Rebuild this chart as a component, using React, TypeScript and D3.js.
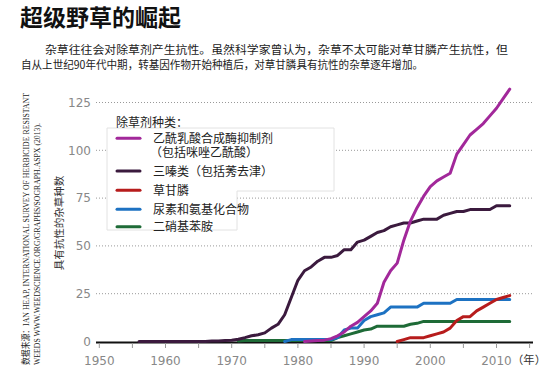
import React from "react";
import * as d3 from "d3";

// Chart data
const yTicks = [0, 25, 50, 75, 100, 125];
const xTickLabels = [1950, 1960, 1970, 1980, 1990, 2000, 2010];
const xMinorTicks = [1950, 1955, 1960, 1965, 1970, 1975, 1980, 1985, 1990, 1995, 2000, 2005, 2010, 2015];

const alsStart = 1981;
const alsValues = [0, 0.3, 0.5, 0.7, 1.5, 3, 5, 8, 10, 13, 16, 20, 31, 37, 41, 53, 63, 70, 76, 81, 84, 86, 88, 98, 103, 108, 111, 114, 118, 122, 127, 132];

const triazineStart = 1956;
const triazineValues = [0, 0, 0, 0, 0, 0, 0, 0, 0, 0, 0, 0.2, 0.3, 0.5, 0.7, 1.2, 2, 3, 3.5, 4.5, 7, 9, 14, 23, 32, 37, 39, 42, 44, 44, 45, 48, 48, 52, 53, 55, 57, 58, 60, 61, 62, 62, 63, 64, 64, 64, 66, 67, 68, 68, 69, 69, 69, 69, 71, 71, 71];

const glyphosateStart = 1995;
const glyphosateValues = [0, 1, 2, 2, 2, 3, 4, 5, 7, 11, 13, 13, 16, 18, 20, 22, 23, 24];

const ureaStart = 1978;
const ureaValues = [0, 1, 1, 1, 1, 1, 1, 1, 2, 6, 7, 7, 11, 13, 14, 15, 18, 18, 18, 18, 18, 20, 20, 20, 20, 20, 22, 22, 22, 22, 22, 22, 22, 22, 22];

const dinitroStart = 1971;
const dinitroValues = [0.3, 0.5, 0.5, 0.5, 0.5, 0.5, 0.5, 0.5, 0.5, 0.5, 0.5, 0.5, 0.5, 0.5, 0.5, 2, 3, 4, 5, 6, 6.5, 8, 8, 8, 8, 8, 9, 9.5, 10.5, 10.5, 10.5, 10.5, 10.5, 10.5, 10.5, 10.5, 10.5, 10.5, 10.5, 10.5, 10.5, 10.5];

const series = [
  { name: "二硝基苯胺", start: dinitroStart, values: dinitroValues, color: "#1e6b37" },
  { name: "尿素和氨基化合物", start: ureaStart, values: ureaValues, color: "#1d72c2" },
  { name: "草甘膦", start: glyphosateStart, values: glyphosateValues, color: "#b71c1c" },
  { name: "三嗪类（包括莠去津）", start: triazineStart, values: triazineValues, color: "#3b1a3e" },
  { name: "乙酰乳酸合成酶抑制剂", start: alsStart, values: alsValues, color: "#a2289a" },
];

const legendItems = [
  { label: ["乙酰乳酸合成酶抑制剂", "（包括咪唑乙酰酸）"], color: "#a2289a" },
  { label: ["三嗪类（包括莠去津）"], color: "#3b1a3e" },
  { label: ["草甘膦"], color: "#b71c1c" },
  { label: ["尿素和氨基化合物"], color: "#1d72c2" },
  { label: ["二硝基苯胺"], color: "#1e6b37" },
];

const cjk = "'Noto Sans CJK SC', sans-serif";
const serif = "'Liberation Serif', 'Noto Sans CJK SC', serif";

export default function App() {
  const width = 550;
  const height = 367;

  const x = d3.scaleLinear().domain([1950, 2010]).range([99.3, 496.5]);
  const y = d3.scaleLinear().domain([0, 125]).range([341.5, 102.5]);

  const pathFor = (s) =>
    d3
      .line<number>()
      .x((_, i) => x(s.start + i))
      .y((d) => y(d))
      .curve(d3.curveLinear)(s.values);

  const legendY = [138.3, 171, 190.3, 209.3, 226.7];

  return (
    <svg
      width={width}
      height={height}
      style={{ position: "absolute", left: 0, top: 0, background: "#fff" }}
    >
      {/* title + intro */}
      <text x={20} y={26} fontFamily={cjk} fontWeight={700} fontSize={23} fill="#111">
        超级野草的崛起
      </text>
      <text x={45} y={54} fontFamily={cjk} fontSize={11.5} fill="#222" textLength={463} lengthAdjust="spacingAndGlyphs">
        杂草往往会对除草剂产生抗性。虽然科学家曾认为，杂草不太可能对草甘膦产生抗性，但
      </text>
      <text x={21} y={68.5} fontFamily={cjk} fontSize={11.5} fill="#222" textLength={402} lengthAdjust="spacingAndGlyphs">
        自从上世纪90年代中期，转基因作物开始种植后，对草甘膦具有抗性的杂草逐年增加。
      </text>

      {/* source note */}
      <text transform="translate(29,365) rotate(-90)" fontFamily={serif} fontSize={9} fill="#222" textLength={272} lengthAdjust="spacingAndGlyphs">
        数据来源：IAN HEAP, INTERNATIONAL SURVEY OF HERBICIDE RESISTANT
      </text>
      <text transform="translate(40,365) rotate(-90)" fontFamily={serif} fontSize={9} fill="#222" textLength={242} lengthAdjust="spacingAndGlyphs">
        WEEDS WWW.WEEDSCIENCE.ORG/GRAPHS/SOGRAPH.ASPX (2013).
      </text>

      {/* y axis title */}
      <text transform="translate(63,223) rotate(-90)" textAnchor="middle" fontFamily={cjk} fontSize={10.5} fill="#333">
        具有抗性的杂草种数
      </text>

      {/* grid + y labels */}
      {yTicks.map((t) => (
        <g key={t}>
          {t > 0 && (
            <line x1={96} x2={533} y1={y(t)} y2={y(t)} stroke="#999" strokeWidth={1} strokeDasharray="1,2" />
          )}
          <text x={91} y={y(t) + 4.3} textAnchor="end" fontFamily="'DejaVu Sans', sans-serif" fontSize={12} fill="#888">
            {t}
          </text>
        </g>
      ))}

      {/* x axis */}
      <line x1={96} x2={533} y1={342.5} y2={342.5} stroke="#111" strokeWidth={2} />
      {xMinorTicks.map((t) => (
        <line key={t} x1={x(t)} x2={x(t)} y1={343} y2={348} stroke="#999" strokeWidth={1} />
      ))}
      {xTickLabels.map((t) => (
        <text key={t} x={x(t)} y={364.5} textAnchor="middle" fontFamily="'DejaVu Sans', sans-serif" fontSize={12} fill="#888">
          {t}
        </text>
      ))}
      <text x={512} y={364} fontFamily={cjk} fontSize={11} fill="#333" textLength={34} lengthAdjust="spacingAndGlyphs">
        （年）
      </text>

      {/* series */}
      {series.map((s) => (
        <path
          key={s.name}
          d={pathFor(s)}
          fill="none"
          stroke={s.color}
          strokeWidth={3}
          strokeLinejoin="round"
          strokeLinecap="round"
        />
      ))}

      {/* legend */}
      <path
        d="M107,128 H334 V191 H237 V230 H107 Z"
        fill="#fff"
        stroke="#e2e2e2"
        strokeWidth={1}
      />
      <text x={116} y={127} fontFamily={cjk} fontSize={12} fill="#222">
        除草剂种类：
      </text>
      {legendItems.map((item, i) => (
        <g key={i}>
          <line x1={117} x2={140} y1={legendY[i]} y2={legendY[i]} stroke={item.color} strokeWidth={3} strokeLinecap="round" />
          <text y={legendY[i] + 4.5} fontFamily={cjk} fontSize={12} fill="#222">
            {item.label.map((l, j) => (
              <tspan key={j} x={j === 0 ? 153 : 150} dy={j === 0 ? 0 : 14}>
                {l}
              </tspan>
            ))}
          </text>
        </g>
      ))}
    </svg>
  );
}
